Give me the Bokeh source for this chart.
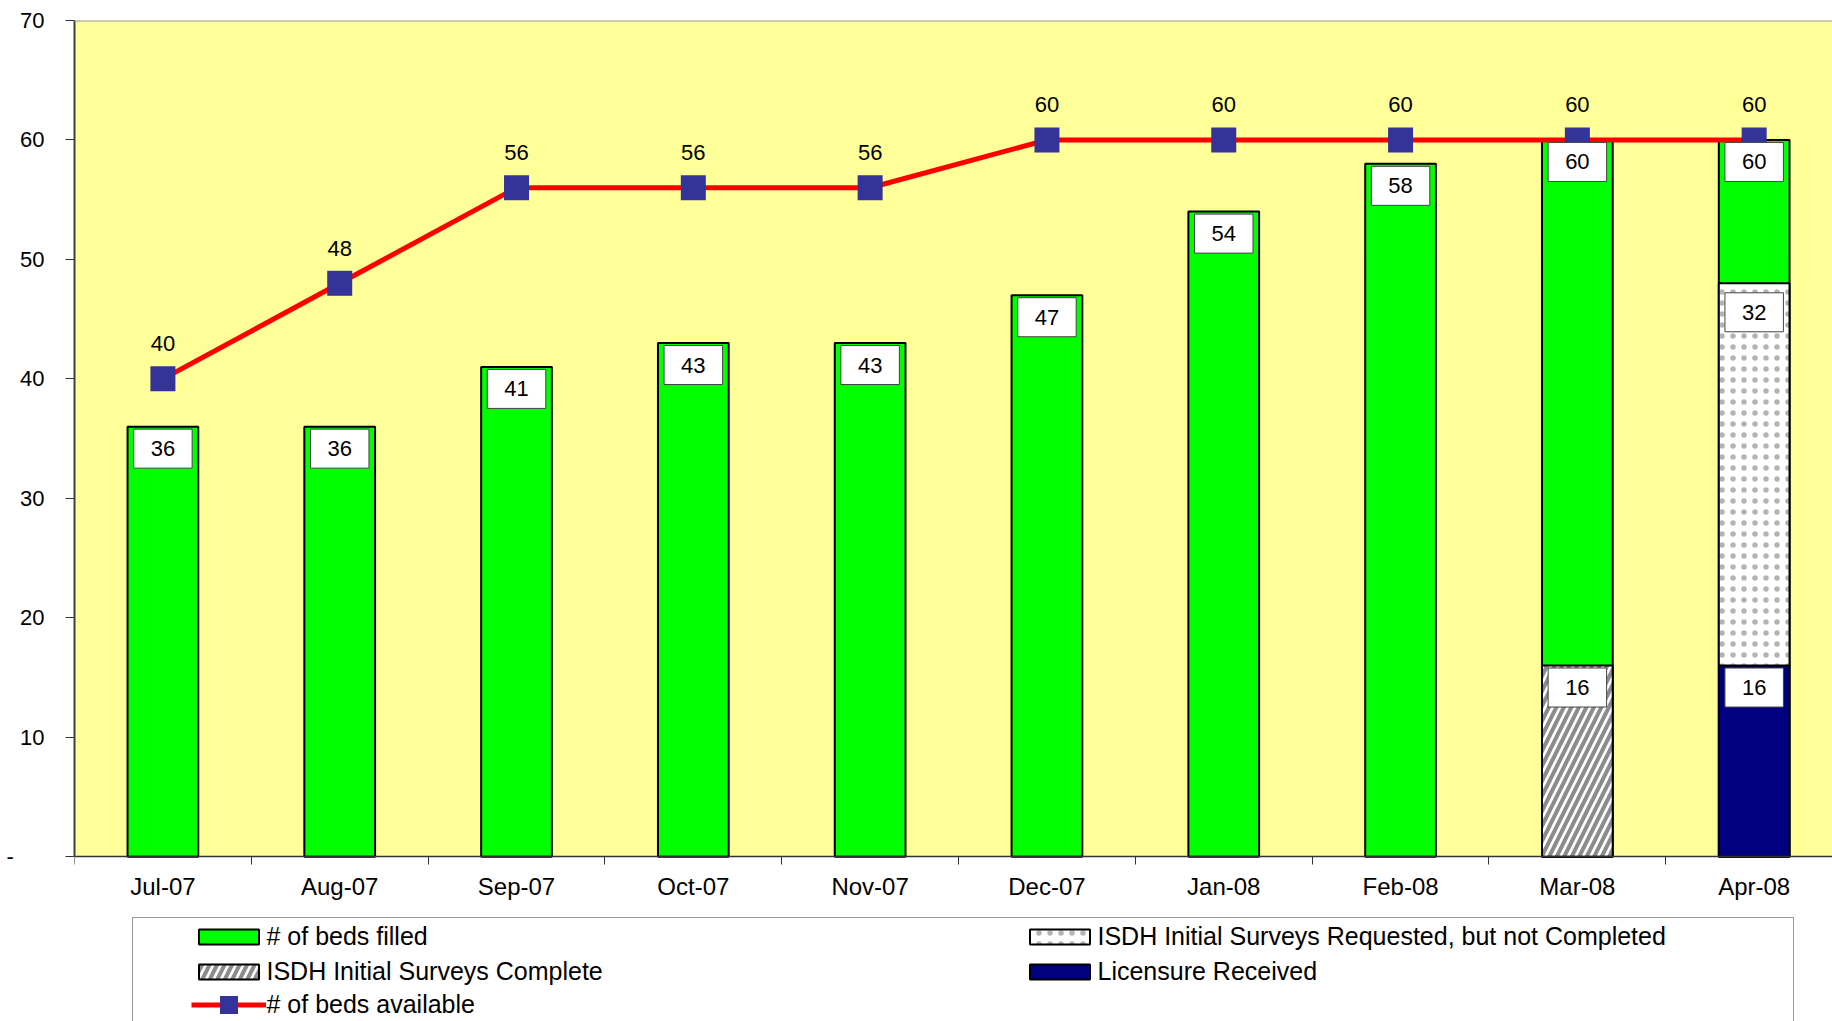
import numpy as np
from bokeh.plotting import figure
from bokeh.models import (ColumnDataSource, Range1d, FixedTicker, Legend, LegendItem,
                          Span, BoxAnnotation)
from bokeh.core.properties import value
from bokeh.embed import file_html
from bokeh.resources import INLINE

# ---------------- data ----------------
months = ["Jul-07", "Aug-07", "Sep-07", "Oct-07", "Nov-07",
          "Dec-07", "Jan-08", "Feb-08", "Mar-08", "Apr-08"]
beds_filled = [36, 36, 41, 43, 43, 47, 54, 58, 60, 60]
beds_available = [40, 48, 56, 56, 56, 60, 60, 60, 60, 60]
surveys_complete = [0, 0, 0, 0, 0, 0, 0, 0, 16, 0]
licensure_received = [0, 0, 0, 0, 0, 0, 0, 0, 0, 16]
surveys_requested = [0, 0, 0, 0, 0, 0, 0, 0, 0, 32]
y_ticks = [0, 10, 20, 30, 40, 50, 60, 70]
zero_label = "-"

FONT = "Liberation Sans"
GREEN = "#00FF00"
NAVY = "#000080"
RED = "#FF0000"
MARK = "#333399"

xc = np.arange(len(months)) + 0.5
bounds = list(np.arange(len(months) + 1).astype(float))

p = figure(width=1832, height=1021, output_backend="svg", toolbar_location=None,
           x_range=Range1d(0, 9.943), y_range=Range1d(-13.8, 70),
           min_border_left=74, min_border_right=0, min_border_top=20, min_border_bottom=0)
p.background_fill_color = "white"
p.border_fill_color = "white"
p.outline_line_color = None
p.grid.visible = False

# plot area (0..70) background
p.add_layout(BoxAnnotation(bottom=0, top=70, fill_color="#FFFF99", fill_alpha=1,
                           line_color=None, level="underlay"))
p.add_layout(Span(location=70, dimension="width", line_color="#999999", line_width=2))

# ---------------- axes ----------------
xa = p.xaxis[0]
xa.fixed_location = 0
xa.ticker = FixedTicker(ticks=list(xc), minor_ticks=bounds)
xa.major_label_overrides = {float(v): m for v, m in zip(xc, months)}
xa.major_tick_out = 0
xa.major_tick_in = 0
xa.major_tick_line_color = None
xa.minor_tick_out = 8
xa.minor_tick_in = 0
xa.minor_tick_line_color = "#333333"
xa.axis_line_color = "#333333"
xa.axis_line_width = 1.5
xa.major_label_text_font = FONT
xa.major_label_text_font_size = "24px"
xa.major_label_text_color = "black"
xa.major_label_standoff = 8

ya = p.yaxis[0]
ya.bounds = (0, 70)
ya.ticker = FixedTicker(ticks=y_ticks)
ya.major_label_overrides = {0: zero_label + "\u00a0" * 5}
ya.major_tick_out = 9
ya.major_tick_in = 0
ya.minor_tick_line_color = None
ya.major_tick_line_color = "#333333"
ya.axis_line_color = "#404040"
ya.axis_line_width = 2
ya.major_label_text_font = FONT
ya.major_label_text_font_size = "22px"
ya.major_label_text_color = "black"
ya.major_label_standoff = 21

# ---------------- bars ----------------
filled_src = ColumnDataSource(dict(x=xc, top=beds_filled))
r_filled = p.vbar(x="x", top="top", bottom=0, width=0.4, source=filled_src,
                  fill_color=GREEN, line_color="black", line_width=2)

comp = np.array(surveys_complete)
lic = np.array(licensure_received)
req = np.array(surveys_requested)

m = comp > 0
comp_src = ColumnDataSource(dict(x=xc[m], top=comp[m], lab=[str(v) for v in comp[m]]))
r_comp = p.vbar(x="x", top="top", bottom=0, width=0.4, source=comp_src,
                fill_color="white", line_color="black", line_width=2,
                hatch_pattern="/", hatch_color="#8c8c8c", hatch_scale=15, hatch_weight=4)

m = lic > 0
lic_src = ColumnDataSource(dict(x=xc[m], top=lic[m], lab=[str(v) for v in lic[m]]))
r_lic = p.vbar(x="x", top="top", bottom=0, width=0.4, source=lic_src,
               fill_color=NAVY, line_color="black", line_width=2)

m = req > 0
base = comp + lic
req_src = ColumnDataSource(dict(x=xc[m], bottom=base[m], top=(base + req)[m],
                                lab=[str(v) for v in req[m]]))
r_req = p.vbar(x="x", top="top", bottom="bottom", width=0.4, source=req_src,
               fill_color="white", line_color="black", line_width=2,
               hatch_pattern=".", hatch_color="#b4b4b4", hatch_scale=11, hatch_weight=0.8)

# ---------------- line ----------------
avail_src = ColumnDataSource(dict(x=xc, y=beds_available, lab=[str(v) for v in beds_available]))
r_line = p.line(x="x", y="y", source=avail_src, line_color=RED, line_width=5)
r_mark = p.scatter(x="x", y="y", source=avail_src, marker="square", size=25,
                   fill_color=MARK, line_color=None)

# ---------------- labels ----------------
box_style = dict(text_font=value(FONT), text_font_size="22px", text_color="black",
                 text_align="center", text_baseline="middle",
                 background_fill_color="white", border_line_color="#444444",
                 border_line_width=1,
                 padding=dict(left=17, right=17, top=12, bottom=12))

filled_lab = ColumnDataSource(dict(x=xc, y=beds_filled, lab=[str(v) for v in beds_filled]))
p.text(x="x", y="y", text="lab", source=filled_lab, y_offset=22, **box_style)
p.text(x="x", y="top", text="lab", source=comp_src, y_offset=22, **box_style)
p.text(x="x", y="top", text="lab", source=lic_src, y_offset=22, **box_style)
p.text(x="x", y="top", text="lab", source=req_src, y_offset=29, **box_style)
p.text(x="x", y="y", text="lab", source=avail_src, y_offset=-35,
       text_font=value(FONT), text_font_size="22px", text_color="black",
       text_align="center", text_baseline="middle")

# ---------------- legend ----------------
r_box = p.quad(left=[], right=[], top=[], bottom=[], fill_alpha=0, line_alpha=0)
box_leg = Legend(items=[LegendItem(label=" ", renderers=[r_box])], location=(58, -98),
                 padding=0, margin=0, spacing=0, glyph_width=1660, glyph_height=200,
                 label_standoff=0, label_width=0, label_height=0,
                 label_text_font_size="1px",
                 border_line_color="#333333", border_line_width=1,
                 background_fill_color="white", background_fill_alpha=1)
p.add_layout(box_leg)


def leg(items, vx, vy, gh, lh):
    return Legend(items=items, location=(vx, vy), padding=0, margin=0, spacing=0,
                  glyph_width=75, glyph_height=gh, label_height=lh, label_width=0,
                  label_standoff=1, label_text_font=FONT, label_text_font_size="25px",
                  label_text_color="black",
                  border_line_alpha=0, background_fill_alpha=0)


p.add_layout(leg([LegendItem(label="# of beds filled", renderers=[r_filled])], 116.5, 70, 19, 30))
p.add_layout(leg([LegendItem(label="ISDH Initial Surveys Complete", renderers=[r_comp])], 116.5, 34.5, 19, 30))
p.add_layout(leg([LegendItem(label="# of beds available", renderers=[r_line, r_mark])], 116.5, -5.5, 45, 30))
p.add_layout(leg([LegendItem(label="ISDH Initial Surveys Requested, but not Completed", renderers=[r_req])], 947.5, 70, 19, 30))
p.add_layout(leg([LegendItem(label="Licensure Received", renderers=[r_lic])], 947.5, 34.5, 19, 30))

open("out.html", "w").write(file_html(p, INLINE))
